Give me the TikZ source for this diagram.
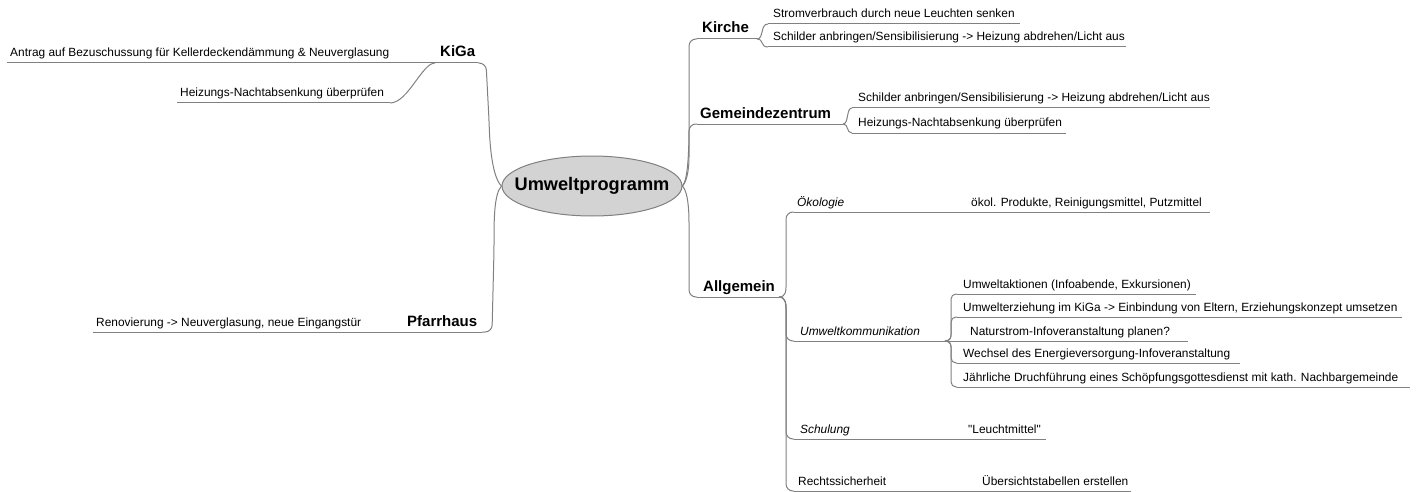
\documentclass[tikz,border=0pt]{standalone}
\usepackage{fontspec}
\setmainfont{Liberation Sans}
\usetikzlibrary{shapes.geometric}
\definecolor{linegray}{RGB}{128,128,128}
\definecolor{ellfill}{RGB}{211,211,211}
\begin{document}
\begin{tikzpicture}[x=1pt,y=-1pt,
  line/.style={draw=linegray,line width=1pt},
  conn/.style={draw=linegray,line width=1pt,rounded corners=7pt},
  connsmall/.style={draw=linegray,line width=1pt,rounded corners=5pt},
  topic/.style={anchor=base west,inner sep=0pt,font=\fontsize{15}{17}\selectfont\bfseries},
  sub/.style={anchor=base west,inner sep=0pt,font=\fontsize{11.9}{13}\selectfont},
  subit/.style={anchor=base west,inner sep=0pt,font=\fontsize{11.9}{13}\selectfont\itshape},
]
\useasboundingbox (0,0) rectangle (1420,492);

% central topic
\node[ellipse,draw=linegray,fill=ellfill,line width=1pt,minimum width=180pt,minimum height=60pt,inner sep=0pt] (root) at (592,186) {};
\node[inner sep=0pt,font=\fontsize{18.2}{20}\selectfont\bfseries] (rootlabel) at (root.center) {Umweltprogramm};

% ---------- left side ----------
\coordinate (kiga-l) at (435,63);
\coordinate (kiga-r) at (478,63);
\coordinate (antrag-l) at (7,63);
\coordinate (heizL-l) at (177,103);
\coordinate (heizL-r) at (390,103);
\coordinate (pfarr-l) at (400,332);
\coordinate (pfarr-r) at (482,332);
\coordinate (renov-l) at (93,332);

\node[topic] (kiga) at (440,57) {KiGa};
\node[sub] (antrag) at (10,57) {Antrag auf Bezuschussung für Kellerdeckendämmung \& Neuverglasung};
\node[sub] (heizL) at (180,97) {Heizungs-Nachtabsenkung überprüfen};
\node[topic] (pfarr) at (407,326) {Pfarrhaus};
\node[sub] (renov) at (96,326) {Renovierung -> Neuverglasung, neue Eingangstür};

\draw[line] (kiga-l) -- (kiga-r);
\draw[line] (antrag-l) -- (kiga-l);
\draw[line] (heizL-l) -- (heizL-r);
\draw[line] (pfarr-l) -- (pfarr-r);
\draw[line] (renov-l) -- (pfarr-l);

\draw[conn] (root.west) .. controls (493,178) and (490,150) .. (489,120) -- (486,63) -- (kiga-r);
\draw[conn] (root.west) .. controls (494,194) and (494,220) .. (494,250) -- (492,332) -- (pfarr-r);
\draw[line] (kiga-l) .. controls (422,63) and (408,103) .. (heizL-r);

% ---------- right side ----------
\coordinate (kirche-l) at (697,39);
\coordinate (kirche-r) at (757,39);
\coordinate (strom-l) at (768,24);
\coordinate (strom-r) at (1020,24);
\coordinate (schK-l) at (768,47);
\coordinate (schK-r) at (1126,47);
\coordinate (gem-l) at (697,124);
\coordinate (gem-r) at (843,124);
\coordinate (schG-l) at (852,108);
\coordinate (schG-r) at (1210,108);
\coordinate (heizG-l) at (852,133);
\coordinate (heizG-r) at (1066,133);
\coordinate (allg-l) at (697,297);
\coordinate (allg-r) at (779,297);
\coordinate (oek-l) at (794,212);
\coordinate (oek-r) at (965,212);
\coordinate (oekP-r) at (1210,212);
\coordinate (uk-l) at (794,341);
\coordinate (uk-r) at (945,341);
\coordinate (uk1-l) at (957,294);
\coordinate (uk1-r) at (1196,294);
\coordinate (uk2-l) at (957,317);
\coordinate (uk2-r) at (1402,317);
\coordinate (uk3-l) at (957,341);
\coordinate (uk3-r) at (1188,341);
\coordinate (uk4-l) at (957,363);
\coordinate (uk4-r) at (1240,363);
\coordinate (uk5-l) at (957,387);
\coordinate (uk5-r) at (1410,387);
\coordinate (schu-l) at (794,439);
\coordinate (schu-r) at (962,439);
\coordinate (leucht-r) at (1046,439);
\coordinate (rs-l) at (794,491);
\coordinate (rs-r) at (975,491);
\coordinate (ueb-r) at (1131,491);

\node[topic] (kirche) at (702,33) {Kirche};
\node[sub] (strom) at (773,18) {Stromverbrauch durch neue Leuchten senken};
\node[sub] (schK) at (773,41) {Schilder anbringen/Sensibilisierung -> Heizung abdrehen/Licht aus};
\node[topic] (gem) at (700,118) {Gemeindezentrum};
\node[sub] (schG) at (858,102) {Schilder anbringen/Sensibilisierung -> Heizung abdrehen/Licht aus};
\node[sub] (heizG) at (858,127) {Heizungs-Nachtabsenkung überprüfen};
\node[topic] (allg) at (703,291) {Allgemein};
\node[subit] (oek) at (797,206) {Ökologie};
\node[sub] (oekP) at (971,206) {ökol. Produkte, Reinigungsmittel, Putzmittel};
\node[subit] (uk) at (800,335) {Umweltkommunikation};
\node[sub] (uk1) at (963,288) {Umweltaktionen (Infoabende, Exkursionen)};
\node[sub] (uk2) at (963,311) {Umwelterziehung im KiGa -> Einbindung von Eltern, Erziehungskonzept umsetzen};
\node[sub] (uk3) at (970,335) {Naturstrom-Infoveranstaltung planen?};
\node[sub] (uk4) at (963,357) {Wechsel des Energieversorgung-Infoveranstaltung};
\node[sub] (uk5) at (963,381) {Jährliche Druchführung eines Schöpfungsgottesdienst mit kath. Nachbargemeinde};
\node[subit] (schu) at (800,433) {Schulung};
\node[sub] (leucht) at (968,433) {\textquotedbl Leuchtmittel\textquotedbl};
\node[sub] (rs) at (798,485) {Rechtssicherheit};
\node[sub] (ueb) at (982,485) {Übersichtstabellen erstellen};

% underlines
\draw[line] (kirche-l) -- (kirche-r);
\draw[line] (strom-l) -- (strom-r);
\draw[line] (schK-l) -- (schK-r);
\draw[line] (gem-l) -- (gem-r);
\draw[line] (schG-l) -- (schG-r);
\draw[line] (heizG-l) -- (heizG-r);
\draw[line] (allg-l) -- (allg-r);
\draw[line] (oek-l) -- (oek-r);
\draw[line] (oek-r) -- (oekP-r);
\draw[line] (uk-l) -- (uk-r);
\draw[line] (uk1-l) -- (uk1-r);
\draw[line] (uk2-l) -- (uk2-r);
\draw[line] (uk3-l) -- (uk3-r);
\draw[line] (uk4-l) -- (uk4-r);
\draw[line] (uk5-l) -- (uk5-r);
\draw[line] (schu-l) -- (schu-r);
\draw[line] (schu-r) -- (leucht-r);
\draw[line] (rs-l) -- (rs-r);
\draw[line] (rs-r) -- (ueb-r);

% connectors from root
\draw[conn] (root.east) .. controls (688,180) and (689,150) .. (689,120) -- (689,39) -- (kirche-l);
\draw[conn] (root.east) .. controls (688,180) and (689,165) .. (689,150) -- (689,124) -- (gem-l);
\draw[conn] (root.east) .. controls (688,192) and (689,210) .. (689,230) -- (689,297) -- (allg-l);

% Kirche children
\draw[line] (kirche-r) .. controls (764,39) and (760,24) .. (strom-l);
\draw[line] (kirche-r) .. controls (764,39) and (760,47) .. (schK-l);
% Gemeindezentrum children
\draw[line] (gem-r) .. controls (849,124) and (846,108) .. (schG-l);
\draw[line] (gem-r) .. controls (849,124) and (846,133) .. (heizG-l);

% Allgemein children
\draw[conn] (allg-r) .. controls (786,297) and (786,290) .. (786,280) -- (786,212) -- (oek-l);
\draw[conn] (allg-r) .. controls (786,297) and (786,305) .. (786,315) -- (786,341) -- (uk-l);
\draw[conn] (allg-r) .. controls (786,297) and (786,305) .. (786,315) -- (786,439) -- (schu-l);
\draw[conn] (allg-r) .. controls (786,297) and (786,305) .. (786,315) -- (786,491) -- (rs-l);

% Umweltkommunikation children
\draw[connsmall] (uk-r) .. controls (951,341) and (951,336) .. (951,330) -- (951,294) -- (uk1-l);
\draw[connsmall] (uk-r) .. controls (951,341) and (951,336) .. (951,330) -- (951,317) -- (uk2-l);
\draw[line] (uk-r) -- (uk3-l);
\draw[connsmall] (uk-r) .. controls (951,341) and (951,346) .. (951,352) -- (951,363) -- (uk4-l);
\draw[connsmall] (uk-r) .. controls (951,341) and (951,346) .. (951,352) -- (951,387) -- (uk5-l);
\end{tikzpicture}
\end{document}
